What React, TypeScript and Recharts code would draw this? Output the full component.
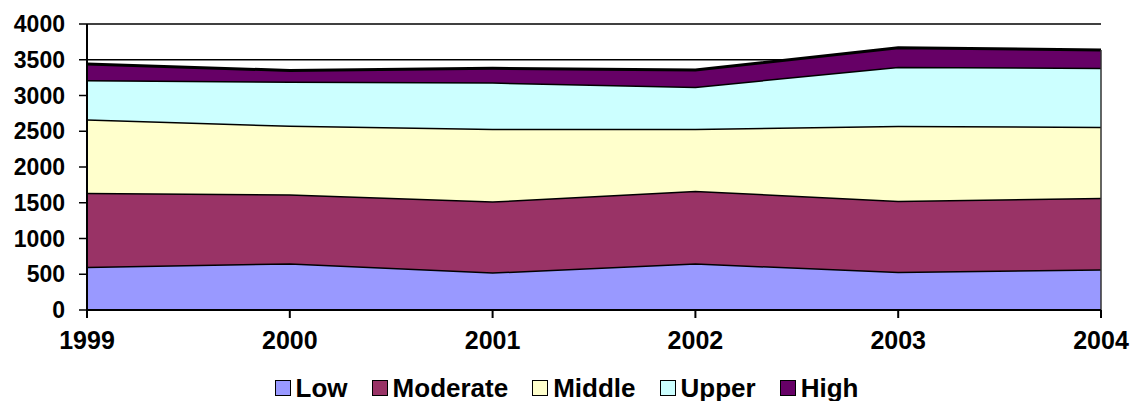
import React from 'react';
import { AreaChart, Area, XAxis, YAxis, CartesianGrid, Legend, ReferenceLine } from 'recharts';

const years = ['1999', '2000', '2001', '2002', '2003', '2004'];
const low = [605, 655, 527, 653, 536, 569];
const moderate = [1035, 965, 993, 1016, 993, 1002];
const middle = [1027, 960, 1016, 867, 1049, 993];
const upper = [550, 615, 648, 588, 825, 825];
const high = [223, 155, 196, 233, 266, 247];
const yTicks = [0, 500, 1000, 1500, 2000, 2500, 3000, 3500, 4000];

const series = [
  { key: 'Low', values: low, color: '#9999FF' },
  { key: 'Moderate', values: moderate, color: '#993366' },
  { key: 'Middle', values: middle, color: '#FFFFCC' },
  { key: 'Upper', values: upper, color: '#CCFFFF' },
  { key: 'High', values: high, color: '#660066' },
];

const data = years.map((y, i) => {
  const row: any = { year: y };
  series.forEach((s) => (row[s.key] = s.values[i]));
  return row;
});

const lastIdx = years.length - 1;
const lastTotal = series.reduce((acc, s) => acc + s.values[lastIdx], 0);

const FONT = 'Arial, "Liberation Sans", sans-serif';

const LegendContent = () => (
  <div
    style={{
      display: 'flex',
      justifyContent: 'center',
      alignItems: 'center',
      height: 26,
      lineHeight: '26px',
      fontFamily: FONT,
      fontWeight: 'bold',
      fontSize: 26,
      color: '#000',
      paddingLeft: 32,
    }}
  >
    {series.map((s, i) => (
      <div key={s.key} style={{ display: 'flex', alignItems: 'center', marginLeft: i === 0 ? 0 : 24 }}>
        <span
          style={{
            display: 'inline-block',
            width: 14,
            height: 14,
            background: s.color,
            border: '1.5px solid #000',
            marginRight: 5,
          }}
        />
        <span>{s.key}</span>
      </div>
    ))}
  </div>
);

export default function App() {
  return (
    <div style={{ position: 'absolute', left: 0, top: 0, width: 1131, height: 401, background: '#fff' }}>
      <AreaChart width={1131} height={401} data={data} margin={{ top: 24, right: 30, left: 0, bottom: 0 }}>
        <CartesianGrid vertical={false} stroke="#000" strokeWidth={1.5} />
        <XAxis
          dataKey="year"
          height={65}
          tickSize={8}
          tickMargin={13}
          axisLine={{ stroke: '#000', strokeWidth: 2 }}
          tickLine={{ stroke: '#000', strokeWidth: 2 }}
          tick={{ fill: '#000', fontSize: 25, fontWeight: 'bold', fontFamily: FONT }}
          interval={0}
        />
        <YAxis
          width={87}
          domain={[0, 4000]}
          ticks={yTicks}
          interval={0}
          tickSize={8}
          tickMargin={14}
          axisLine={{ stroke: '#000', strokeWidth: 2 }}
          tickLine={{ stroke: '#000', strokeWidth: 1.5 }}
          tick={{ fill: '#000', fontSize: 23, fontWeight: 'bold', fontFamily: FONT }}
        />
        {series.map((s) => (
          <Area
            key={s.key}
            type="linear"
            dataKey={s.key}
            stackId="1"
            stroke="#000"
            strokeWidth={3}
            fill={s.color}
            fillOpacity={1}
            isAnimationActive={false}
            dot={false}
            activeDot={false}
          />
        ))}
        <ReferenceLine
          segment={[
            { x: years[lastIdx], y: 0 },
            { x: years[lastIdx], y: lastTotal },
          ]}
          stroke="#333"
          strokeWidth={1.5}
        />
        <Legend verticalAlign="bottom" content={<LegendContent />} />
      </AreaChart>
    </div>
  );
}
